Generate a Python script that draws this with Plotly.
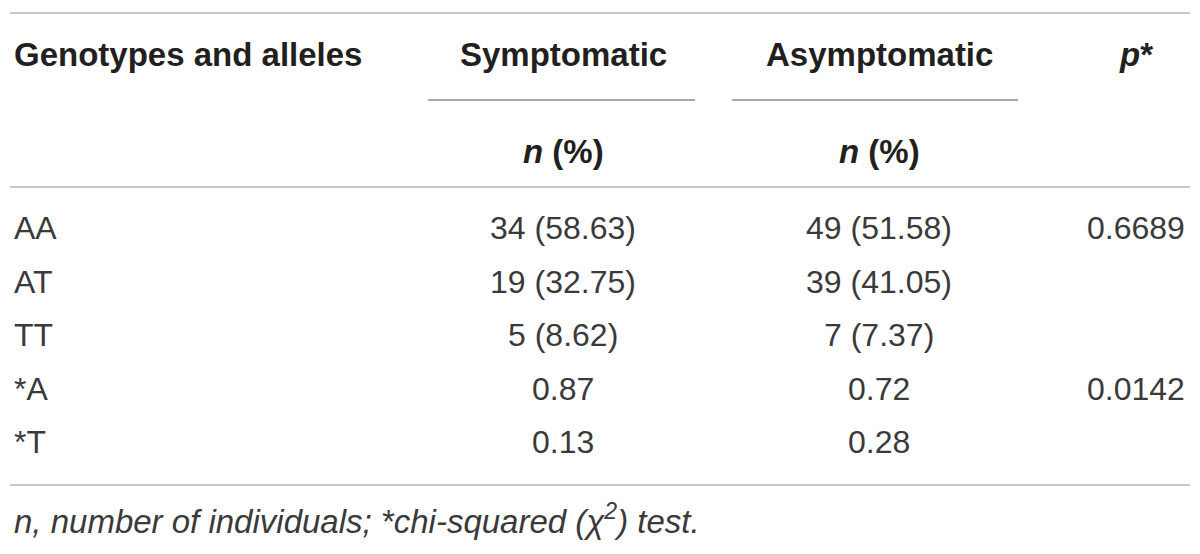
import plotly.graph_objects as go

genotypes = ["AA", "AT", "TT", "*A", "*T"]
symptomatic = ["34 (58.63)", "19 (32.75)", "5 (8.62)", "0.87", "0.13"]
asymptomatic = ["49 (51.58)", "39 (41.05)", "7 (7.37)", "0.72", "0.28"]
p_values = ["0.6689", "", "", "0.0142", ""]

headers = ["Genotypes and alleles", "Symptomatic", "Asymptomatic", "<i>p</i>*"]
subheader = "<i>n</i> (%)"
footnote = "<i>n, number of individuals; *chi-squared (χ<sup>2</sup>) test.</i>"

W, H = 1200, 554
OFF = 8  # page body margin
FONT = "Liberation Sans, Arial, sans-serif"
HEAD_COLOR = "#231f20"
BODY_COLOR = "#3a3a3a"

# column anchors (pixel coords of the reference)
col_left = 12
col_sym = 563
col_asym = 879
col_p = 1136

row_y0, row_step = 228, 53.6

fig = go.Figure()

ann = []
def txt(x, y, s, anchor="center", bold=False, sz=32, color=BODY_COLOR):
    ann.append(dict(x=x, y=y, text=f"<b>{s}</b>" if bold else s, showarrow=False,
                    xanchor=anchor, yanchor="middle", xref="x", yref="y",
                    font=dict(family=FONT, size=sz, color=color)))

# header
txt(col_left, 54, headers[0], "left", True, 33, HEAD_COLOR)
txt(col_sym, 54, headers[1], "center", True, 33, HEAD_COLOR)
txt(col_asym, 54, headers[2], "center", True, 33, HEAD_COLOR)
txt(col_p, 54, headers[3], "center", True, 33, HEAD_COLOR)
txt(col_sym, 151, subheader, "center", True, 33, HEAD_COLOR)
txt(col_asym, 151, subheader, "center", True, 33, HEAD_COLOR)

for i, g in enumerate(genotypes):
    y = row_y0 + row_step * i
    txt(col_left, y, g, "left")
    txt(col_sym, y, symptomatic[i], "center")
    txt(col_asym, y, asymptomatic[i], "center")
    if p_values[i]:
        txt(col_p, y, p_values[i], "center")

txt(col_left, 519, footnote, "left", False, 33)

shapes = []
for y in [13, 187, 485]:
    shapes.append(dict(type="line", x0=10, x1=1190, y0=y, y1=y, xref="x", yref="y",
                       line=dict(color="#c8c8c8", width=2)))
for x0, x1 in [(428, 695), (732, 1018)]:
    shapes.append(dict(type="line", x0=x0, x1=x1, y0=100, y1=100, xref="x", yref="y",
                       line=dict(color="#a8a8a8", width=2)))

fig.update_layout(width=W, height=H, margin=dict(l=0, r=0, t=0, b=0),
                  paper_bgcolor="white", plot_bgcolor="white", showlegend=False,
                  annotations=ann, shapes=shapes,
                  xaxis=dict(range=[OFF, W + OFF], visible=False, fixedrange=True),
                  yaxis=dict(range=[H + OFF, OFF], visible=False, fixedrange=True))
fig.write_html("out.html", config={"displayModeBar": False})
